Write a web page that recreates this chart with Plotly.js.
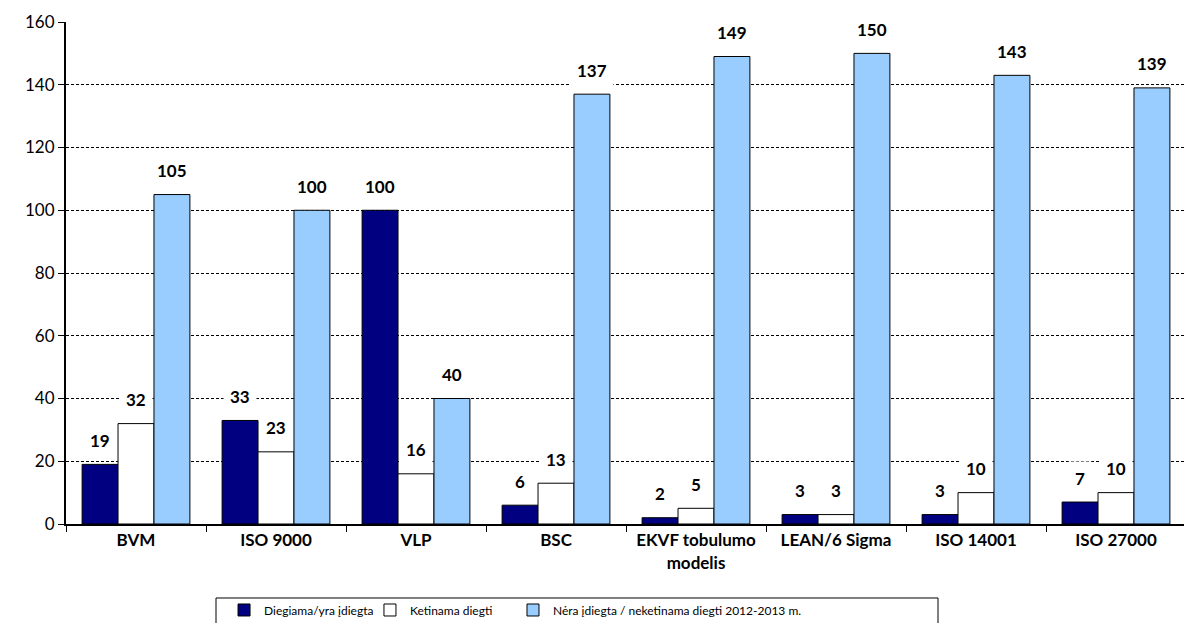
<!DOCTYPE html>
<html>
<head>
<meta charset="utf-8">
<script src="https://cdn.plot.ly/plotly-3.0.1.min.js"></script>
<style>
html,body{margin:0;padding:0;overflow:hidden;background:#fff;}
#chart{width:1188px;height:623px;}
</style>
</head>
<body>
<div id="chart"></div>
<script>
const categories = ["BVM", "ISO 9000", "VLP", "BSC", "EKVF tobulumo<br>modelis", "LEAN/6 Sigma", "ISO 14001", "ISO 27000"];
const seriesNames = ["Diegiama/yra įdiegta", "Ketinama diegti", "Nėra įdiegta / neketinama diegti 2012-2013 m."];
const diegiama = [19, 33, 100, 6, 2, 3, 3, 7];
const ketinama = [32, 23, 16, 13, 5, 3, 10, 10];
const nera = [105, 100, 40, 137, 149, 150, 143, 139];
const yTicks = [0, 20, 40, 60, 80, 100, 120, 140, 160];

const colors = ["#000080", "#FFFFFF", "#99CCFF"];
const allSeries = [diegiama, ketinama, nera];
const FONT = "Lato, 'Open Sans', sans-serif";
const legendIds = ["legend", "legend2", "legend3"];
const legendX = [0.1411, 0.2714, 0.3991];

const traces = allSeries.map((vals, i) => ({
  type: "bar",
  name: seriesNames[i],
  x: categories,
  y: vals,
  offsetgroup: String(i),
  legend: legendIds[i],
  marker: {color: colors[i], line: {color: "#000", width: 1}},
  hoverinfo: "x+y"
}));

const nS = allSeries.length;
const annotations = [];
allSeries.forEach((vals, i) => {
  vals.forEach((v, j) => {
    annotations.push({
      x: categories[j], y: v, xref: "x", yref: "y",
      text: "<b>" + v + "</b>",
      showarrow: false,
      xshift: (i - (nS - 1) / 2) * 36,
      yshift: 24,
      yanchor: "middle",
      bgcolor: "#fff",
      borderpad: 6,
      font: {family: FONT, size: 17, color: "#000"}
    });
  });
});

const layout = {
  width: 1188, height: 623,
  margin: {l: 66, r: 2, t: 22, b: 99, autoexpand: false},
  paper_bgcolor: "#fff", plot_bgcolor: "#fff",
  font: {family: FONT, color: "#000"},
  barmode: "group",
  bargap: 0.23,
  bargroupgap: 0,
  showlegend: true,
  xaxis: {
    type: "category",
    showline: true, linecolor: "#000", linewidth: 2,
    ticks: "outside", tickson: "boundaries", ticklen: 6, tickcolor: "#000", tickwidth: 1,
    showgrid: false,
    tickfont: {family: FONT, size: 17, color: "#000", weight: "bold"},
    automargin: false,
    fixedrange: true
  },
  yaxis: {
    range: [0, 160],
    tickvals: yTicks,
    showline: true, linecolor: "#000", linewidth: 2,
    ticks: "outside", ticklen: 6, tickcolor: "#000", tickwidth: 1,
    showgrid: true, gridcolor: "#000", gridwidth: 1, griddash: "3px,2px",
    zeroline: false,
    tickfont: {family: FONT, size: 17, color: "#000"},
    automargin: false,
    fixedrange: true
  },
  shapes: [{
    type: "rect", xref: "paper", yref: "paper",
    x0: (216 - 66) / 1120, x1: (938 - 66) / 1120,
    y0: -0.1474, y1: -0.3,
    line: {color: "#000", width: 1}, fillcolor: "rgba(0,0,0,0)"
  }],
  annotations: annotations
};
legendIds.forEach((id, i) => {
  layout[id] = {
    orientation: "h",
    x: legendX[i], xanchor: "left",
    y: -0.1713, yanchor: "middle",
    bgcolor: "rgba(0,0,0,0)", borderwidth: 0,
    font: {family: FONT, size: 12, color: "#000"},
    itemwidth: 30
  };
});

Plotly.newPlot("chart", traces, layout, {displayModeBar: false, staticPlot: true});
</script>
</body>
</html>
